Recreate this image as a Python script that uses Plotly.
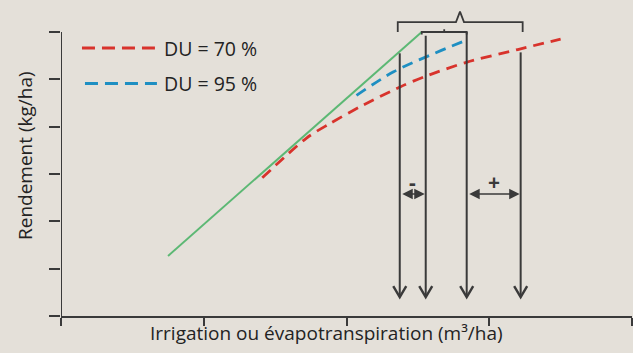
import plotly.graph_objects as go

# ---------------- data ----------------
x_potential = [0.75, 2.527]          # green: potential yield line
y_potential = [1.27, 6.0]

x_du70 = [1.41, 1.72, 1.88, 2.10, 2.375, 2.55, 2.84, 3.20, 3.50]
y_du70 = [2.92, 3.76, 4.06, 4.43, 4.84, 5.06, 5.36, 5.63, 5.85]

x_du95 = [2.07, 2.33, 2.585, 2.842]
y_du95 = [4.66, 5.16, 5.51, 5.83]

arrow_x = [2.373, 2.555, 2.842, 3.22]
arrow_top = [5.55, 5.92, 6.0, 5.57]
arrow_bottom = 0.40

gap_left = [2.373, 2.842]
gap_right = [2.555, 3.22]
gap_labels = ["-", "+"]
gap_y = 2.58

x_ticks = [0, 1, 2, 3, 4]
y_ticks = [0, 1, 2, 3, 4, 5, 6]

legend_names = ["DU = 70 %", "DU = 95 %"]

# ---------------- styling ----------------
W, H = 633, 353
ML, MR, MT, MB = 61, 1, 5, 37
X_RANGE = [0, 4]
PX_PER_Y = 47.33
Y_RANGE = [0, (H - MT - MB) / PX_PER_Y]
PX_PER_X = (W - ML - MR) / (X_RANGE[1] - X_RANGE[0])

BG = "#e4e0d9"
INK = "#3a3a3a"
TEXT = "#232323"
RED = "#d8332c"
BLUE = "#1e8fc2"
GREEN = "#5cb874"
FONT = "Open Sans"


def dx(px):
    return px / PX_PER_X


def dy(px):
    return px / PX_PER_Y


fig = go.Figure()

# curves
fig.add_trace(go.Scatter(x=x_potential, y=y_potential, mode="lines",
                         line=dict(color=GREEN, width=2), hoverinfo="skip"))
fig.add_trace(go.Scatter(x=x_du70, y=y_du70, mode="lines",
                         line=dict(color=RED, width=2.8, dash="11px,7px", shape="spline",
                                   smoothing=0.8),
                         hoverinfo="skip"))
fig.add_trace(go.Scatter(x=x_du95, y=y_du95, mode="lines",
                         line=dict(color=BLUE, width=2.8, dash="11px,7px", shape="spline"),
                         hoverinfo="skip"))

# vertical arrows with open chevron heads
for xa, yt in zip(arrow_x, arrow_top):
    fig.add_trace(go.Scatter(x=[xa, xa], y=[yt, arrow_bottom], mode="lines",
                             line=dict(color=INK, width=2), hoverinfo="skip"))
    fig.add_trace(go.Scatter(x=[xa - dx(6.5), xa, xa + dx(6.5)],
                             y=[arrow_bottom + dy(11), arrow_bottom, arrow_bottom + dy(11)],
                             mode="lines", line=dict(color=INK, width=2.4), hoverinfo="skip"))

# brackets at the top
big_l, big_r = arrow_x[0] - dx(2), arrow_x[3] + dx(2)
mid = 2.795
fig.add_trace(go.Scatter(
    x=[big_l, big_l, mid - dx(4), mid, mid + dx(4), big_r, big_r],
    y=[6.0, 6.21, 6.21, 6.43, 6.21, 6.21, 6.0],
    mode="lines", line=dict(color=INK, width=1.8), hoverinfo="skip"))
small_l, small_r = x_potential[1], arrow_x[2]
small_mid = (small_l + small_r) / 2
fig.add_trace(go.Scatter(
    x=[small_l, small_l, small_mid, small_mid, small_mid, small_r, small_r],
    y=[5.95, 6.0, 6.0, 6.06, 6.0, 6.0, 5.95],
    mode="lines", line=dict(color=INK, width=1.8), hoverinfo="skip"))

# y-axis line (only up to the last tick)
fig.add_shape(type="line", x0=0, x1=0, y0=0, y1=y_ticks[-1], xref="x", yref="y",
              line=dict(color=INK, width=2))

annotations = []
# double arrows between pairs + labels
for xl, xr, lab in zip(gap_left, gap_right, gap_labels):
    annotations.append(dict(x=xr - dx(1), y=gap_y, ax=xl + dx(1), ay=gap_y, xref="x", yref="y",
                            axref="x", ayref="y", text="", showarrow=True,
                            arrowside="end+start", arrowhead=2, arrowsize=1.4,
                            arrowwidth=1.5, arrowcolor=INK, standoff=0, startstandoff=0))
    annotations.append(dict(x=(xl + xr) / 2, y=gap_y + dy(12), xref="x", yref="y", text=f"<b>{lab}</b>",
                            showarrow=False, font=dict(family=FONT, size=21, color=INK)))

# legend (drawn by hand)
leg_y = [5.66, 4.91]
leg_x0 = [0.147, 0.168]
leg_x1 = [0.658, 0.672]
for col, ly, lx0, lx1, name in zip([RED, BLUE], leg_y, leg_x0, leg_x1, legend_names):
    fig.add_shape(type="line", x0=lx0, x1=lx1, y0=ly, y1=ly, xref="x", yref="y",
                  line=dict(color=col, width=3, dash="13px,7px"))
    annotations.append(dict(x=0.71, y=ly, xref="x", yref="y", text=name, showarrow=False,
                            xanchor="left", yanchor="middle",
                            font=dict(family=FONT, size=19.5, color=TEXT)))

# axis titles
pw = W - ML - MR
ph = H - MT - MB
annotations.append(dict(x=(326.5 - ML) / pw, y=(H - MB - 333) / ph, xref="paper", yref="paper",
                        text="Irrigation ou évapotranspiration (m³/ha)", showarrow=False,
                        xanchor="center", yanchor="middle",
                        font=dict(family=FONT, size=19, color=TEXT)))
annotations.append(dict(x=(25 - ML) / pw, y=(H - MB - 156) / ph, xref="paper", yref="paper",
                        text="Rendement (kg/ha)", showarrow=False, textangle=-90,
                        xanchor="center", yanchor="middle",
                        font=dict(family=FONT, size=19, color=TEXT)))

fig.update_layout(
    width=W, height=H,
    margin=dict(l=ML, r=MR, t=MT, b=MB, pad=0),
    paper_bgcolor=BG, plot_bgcolor=BG,
    showlegend=False,
    annotations=annotations,
    xaxis=dict(range=X_RANGE, tickvals=x_ticks, showticklabels=False, ticks="outside",
               ticklen=8, tickwidth=2, tickcolor=INK, showline=True, linecolor=INK,
               linewidth=2, showgrid=False, zeroline=False, fixedrange=True),
    yaxis=dict(range=Y_RANGE, tickvals=y_ticks, showticklabels=False, ticks="outside",
               ticklen=11, tickwidth=2, tickcolor=INK, showline=False,
               showgrid=False, zeroline=False, fixedrange=True),
)

fig.write_html(
    "out.html",
    config={"displayModeBar": False},
    post_script="document.body.style.margin='0';document.body.style.backgroundColor='" + BG + "';",
)
